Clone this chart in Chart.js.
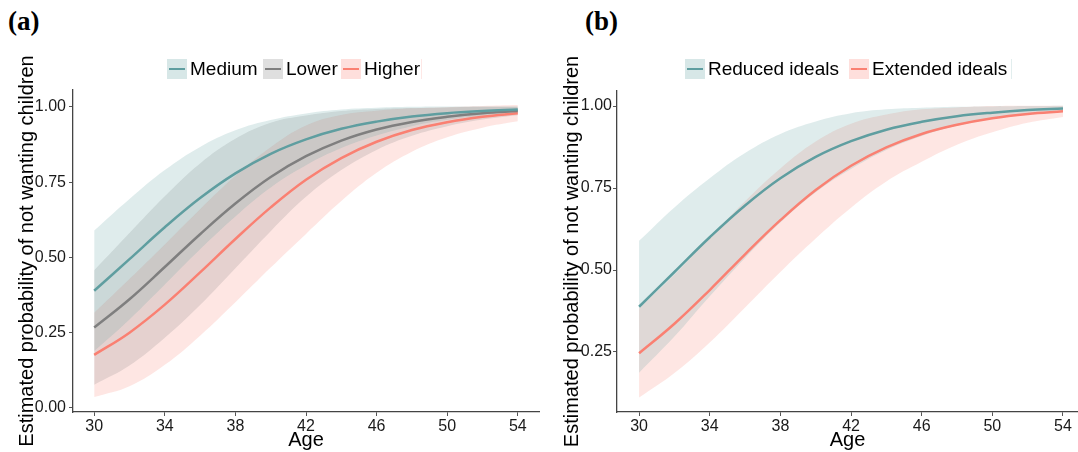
<!DOCTYPE html>
<html lang="en">
<head>
  <meta charset="UTF-8">
  <title>Estimated probability of not wanting children by age</title>
  <script src="https://cdn.jsdelivr.net/npm/chart.js@4.4.1/dist/chart.umd.min.js"></script>
  <style>
    body { margin: 0; background: #fff; font-family: "Liberation Sans", Arial, sans-serif; }
    #wrap { position: relative; width: 1078px; height: 452px; overflow: hidden; }
    .panel { position: absolute; top: 0; height: 452px; }
    .tag { position: absolute; top: 8px; font: bold 27px/26px "Liberation Serif", "Times New Roman", serif; color: #000; }
    .legend { position: absolute; top: 59px; left: 0; height: 20px; }
    .key { position: absolute; top: 0; width: 20px; height: 20px; }
    .key i { position: absolute; left: 2px; right: 2px; top: 9px; height: 2px; }
    .lab { position: absolute; top: 0; line-height: 20px; font-size: 19px; color: #000; white-space: nowrap; }
    .edge { position: absolute; top: 0; width: 1px; height: 20px; }
  </style>
</head>
<body>
<div id="wrap">
  <div class="tag" style="left:8px">(a)</div>
  <div class="tag" style="left:585px">(b)</div>
  <div class="panel" style="left:0;width:540px"><canvas id="chartA" width="540" height="452"></canvas></div>
  <div class="panel" style="left:540px;width:538px"><canvas id="chartB" width="538" height="452"></canvas></div>
  <div id="legA" class="legend"></div>
  <div id="legB" class="legend"></div>
</div>
<script>
const ages   = [30, 32, 34, 36, 38, 40, 42, 44, 46, 48, 50, 52, 54];
const xTicks = [30, 34, 38, 42, 46, 50, 54];
const yTicksA = [0, 0.25, 0.5, 0.75, 1];
const yTicksB = [0.25, 0.5, 0.75, 1];

// (a) groups
const groupsA  = ['Medium', 'Lower', 'Higher'];
const mediumFit = [0.389, 0.494, 0.600, 0.697, 0.779, 0.844, 0.892, 0.927, 0.951, 0.968, 0.979, 0.986, 0.991];
const mediumHi  = [0.589, 0.694, 0.790, 0.867, 0.922, 0.956, 0.978, 0.991, 0.997, 1.000, 1.001, 1.001, 1.001];
const mediumLo  = [0.189, 0.294, 0.410, 0.527, 0.636, 0.732, 0.806, 0.863, 0.905, 0.936, 0.957, 0.971, 0.981];
const lowerFit  = [0.267, 0.361, 0.468, 0.577, 0.679, 0.767, 0.836, 0.888, 0.925, 0.950, 0.967, 0.979, 0.986];
const lowerHi   = [0.457, 0.581, 0.703, 0.812, 0.894, 0.947, 0.971, 0.986, 0.993, 0.996, 0.998, 1.000, 1.000];
const lowerLo   = [0.077, 0.141, 0.233, 0.342, 0.464, 0.587, 0.701, 0.790, 0.857, 0.904, 0.936, 0.958, 0.972];
const higherFit = [0.176, 0.250, 0.343, 0.450, 0.561, 0.666, 0.758, 0.830, 0.884, 0.923, 0.949, 0.967, 0.979];
const higherHi  = [0.316, 0.428, 0.543, 0.660, 0.771, 0.866, 0.938, 0.973, 0.987, 0.995, 0.999, 1.003, 1.006];
const higherLo  = [0.036, 0.072, 0.143, 0.240, 0.351, 0.466, 0.578, 0.687, 0.781, 0.851, 0.899, 0.931, 0.952];

// (b) groups
const groupsB     = ['Reduced ideals', 'Extended ideals'];
const reducedFit  = [0.388, 0.494, 0.600, 0.697, 0.780, 0.845, 0.893, 0.928, 0.952, 0.969, 0.980, 0.988, 0.993];
const reducedHi   = [0.589, 0.691, 0.780, 0.857, 0.915, 0.953, 0.978, 0.990, 0.995, 0.998, 0.999, 1.000, 1.001];
const reducedLo   = [0.187, 0.297, 0.420, 0.537, 0.645, 0.737, 0.808, 0.866, 0.909, 0.940, 0.961, 0.976, 0.985];
const extendedFit = [0.246, 0.336, 0.439, 0.548, 0.652, 0.744, 0.818, 0.874, 0.915, 0.943, 0.963, 0.976, 0.984];
const extendedHi  = [0.383, 0.486, 0.599, 0.710, 0.810, 0.892, 0.946, 0.974, 0.990, 0.996, 1.000, 1.001, 1.001];
const extendedLo  = [0.111, 0.186, 0.279, 0.386, 0.494, 0.596, 0.690, 0.770, 0.830, 0.882, 0.920, 0.949, 0.967];

const TEAL = [95, 158, 160], GREY = [127, 127, 127], SALMON = [250, 128, 114];
const rgb  = (c, a) => a === undefined ? `rgb(${c})` : `rgba(${c},${a})`;

Chart.defaults.font.family = '"Liberation Sans", Arial, sans-serif';
Chart.defaults.color = '#1a1a1a';

const pts = ys => ages.map((a, i) => ({ x: a, y: ys[i] }));

function buildDatasets(series) {
  const n = series.length, out = [];
  series.forEach(s => out.push({
    data: pts(s.fit), borderColor: rgb(s.col), borderWidth: 2.5, pointRadius: 0,
    fill: false, tension: 0.4, order: 0
  }));
  series.forEach((s, i) => {
    out.push({ data: pts(s.hi), borderWidth: 0, pointRadius: 0, tension: 0.4,
               backgroundColor: rgb(s.col, 0.2), fill: { target: n + 2 * i + 1 }, order: 1 });
    out.push({ data: pts(s.lo), borderWidth: 0, pointRadius: 0, tension: 0.4,
               fill: false, order: 1 });
  });
  return out;
}

function makeChart(id, series, cfg) {
  return new Chart(document.getElementById(id), {
    type: 'line',
    data: { datasets: buildDatasets(series) },
    options: {
      responsive: false, animation: false, events: [],
      layout: { padding: { top: cfg.top, right: cfg.right, bottom: 0, left: 0 } },
      plugins: { legend: { display: false }, tooltip: { enabled: false } },
      scales: {
        x: {
          type: 'linear', min: cfg.xmin, max: cfg.xmax,
          afterBuildTicks: s => { s.ticks = xTicks.map(v => ({ value: v })); },
          afterFit: s => { s.height = 40; },
          grid: { drawOnChartArea: false, tickLength: 4, color: '#555' },
          border: { color: '#444', width: 1.3 },
          ticks: { font: { size: 16 }, padding: 1, maxRotation: 0 },
          title: { display: true, text: 'Age', font: { size: 20 }, color: '#000', padding: 0 }
        },
        y: {
          min: cfg.ymin, max: cfg.ymax,
          afterBuildTicks: s => { s.ticks = cfg.yTicks.map(v => ({ value: v })); },
          afterFit: s => { s.width = cfg.yWidth; },
          grid: { drawOnChartArea: false, tickLength: 4, color: '#555' },
          border: { color: '#444', width: 1.3 },
          ticks: { font: { size: 16 }, padding: cfg.tickPad, callback: v => v.toFixed(2) },
          title: { display: true, text: 'Estimated probability of not wanting children',
                   font: { size: 20 }, color: '#000', padding: { top: cfg.titlePad, bottom: 0 } }
        }
      }
    }
  });
}

makeChart('chartA', [
  { fit: mediumFit, hi: mediumHi, lo: mediumLo, col: TEAL },
  { fit: lowerFit,  hi: lowerHi,  lo: lowerLo,  col: GREY },
  { fit: higherFit, hi: higherHi, lo: higherLo, col: SALMON }
], { top: 90, right: 1, xmin: 28.8, xmax: 55.2, ymin: -0.0136, ymax: 1.056,
     yTicks: yTicksA, yWidth: 73, tickPad: 3, titlePad: 15 });

makeChart('chartB', [
  { fit: reducedFit,  hi: reducedHi,  lo: reducedLo,  col: TEAL },
  { fit: extendedFit, hi: extendedHi, lo: extendedLo, col: SALMON }
], { top: 91, right: 0, xmin: 28.75, xmax: 54.85, ymin: 0.067, ymax: 1.046,
     yTicks: yTicksB, yWidth: 77, tickPad: 1, titlePad: 20 });

// ggplot-style legend keys: pale ribbon square with the line across it
function legend(id, names, cols, lefts, edge, edgeCol) {
  const el = document.getElementById(id);
  names.forEach((name, i) => {
    const k = document.createElement('div');
    k.className = 'key';
    k.style.left = lefts[i] + 'px';
    k.style.background = rgb(cols[i], 0.25);
    const ln = document.createElement('i');
    ln.style.background = rgb(cols[i]);
    k.appendChild(ln);
    const t = document.createElement('div');
    t.className = 'lab';
    t.style.left = (lefts[i] + 23) + 'px';
    t.textContent = name;
    el.append(k, t);
  });
  const e = document.createElement('div');
  e.className = 'edge';
  e.style.left = edge + 'px';
  e.style.background = rgb(edgeCol, 0.18);
  el.appendChild(e);
}
legend('legA', groupsA, [TEAL, GREY, SALMON], [167, 263, 341], 421, SALMON);
legend('legB', groupsB, [TEAL, SALMON], [685, 849], 1011, TEAL);
</script>
</body>
</html>
